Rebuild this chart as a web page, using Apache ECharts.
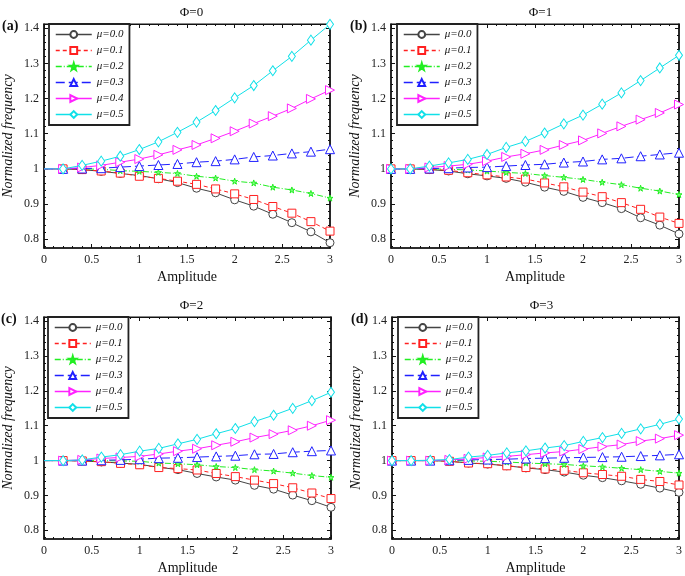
<!DOCTYPE html>
<html>
<head>
<meta charset="utf-8">
<script src="https://cdn.jsdelivr.net/npm/echarts@6/dist/echarts.min.js"></script>
<style>
html,body{margin:0;padding:0;background:#fff;}
#chart{width:685px;height:576px;}
</style>
</head>
<body>
<div id="chart"></div>
<script>
// ---------- data ----------
const amplitude = [0, 0.2, 0.4, 0.6, 0.8, 1.0, 1.2, 1.4, 1.6, 1.8, 2.0, 2.2, 2.4, 2.6, 2.8, 3.0];
const muLabels = ['μ=0.0', 'μ=0.1', 'μ=0.2', 'μ=0.3', 'μ=0.4', 'μ=0.5'];
const phiTitles = ['Φ=0', 'Φ=1', 'Φ=2', 'Φ=3'];
const panelTags = ['(a)', '(b)', '(c)', '(d)'];
const xTickLabels = [0, 0.5, 1, 1.5, 2, 2.5, 3];
const yTickLabels = [0.8, 0.9, 1, 1.1, 1.2, 1.3, 1.4];

// Phi = 0
const phi0_mu00 = [1, 1, 0.998, 0.993, 0.987, 0.981, 0.972, 0.961, 0.945, 0.932, 0.912, 0.894, 0.871, 0.847, 0.821, 0.790];
const phi0_mu01 = [1, 1, 0.998, 0.994, 0.988, 0.979, 0.973, 0.965, 0.956, 0.943, 0.929, 0.913, 0.893, 0.874, 0.850, 0.823];
const phi0_mu02 = [1, 1, 1.000, 0.999, 0.995, 0.993, 0.990, 0.987, 0.979, 0.974, 0.965, 0.960, 0.948, 0.940, 0.930, 0.917];
const phi0_mu03 = [1, 1, 1.001, 1.002, 1.005, 1.008, 1.011, 1.014, 1.019, 1.022, 1.027, 1.034, 1.038, 1.044, 1.049, 1.056];
const phi0_mu04 = [1, 1, 1.004, 1.010, 1.019, 1.028, 1.040, 1.054, 1.068, 1.087, 1.107, 1.129, 1.150, 1.172, 1.199, 1.224];
const phi0_mu05 = [1, 1, 1.010, 1.022, 1.036, 1.055, 1.077, 1.104, 1.133, 1.166, 1.202, 1.237, 1.279, 1.320, 1.366, 1.411];
// Phi = 1
const phi1_mu00 = [1, 1, 0.998, 0.994, 0.986, 0.980, 0.973, 0.962, 0.948, 0.936, 0.919, 0.904, 0.887, 0.861, 0.840, 0.815];
const phi1_mu01 = [1, 1, 0.999, 0.996, 0.989, 0.983, 0.977, 0.971, 0.960, 0.949, 0.934, 0.921, 0.904, 0.885, 0.863, 0.845];
const phi1_mu02 = [1, 1, 1.000, 0.999, 0.997, 0.994, 0.990, 0.987, 0.981, 0.976, 0.970, 0.962, 0.955, 0.945, 0.937, 0.927];
const phi1_mu03 = [1, 1, 1.001, 1.002, 1.004, 1.005, 1.008, 1.011, 1.013, 1.018, 1.021, 1.027, 1.030, 1.036, 1.041, 1.046];
const phi1_mu04 = [1, 1, 1.004, 1.008, 1.013, 1.022, 1.034, 1.043, 1.054, 1.068, 1.081, 1.101, 1.121, 1.140, 1.159, 1.183];
const phi1_mu05 = [1, 1, 1.008, 1.017, 1.027, 1.041, 1.061, 1.078, 1.102, 1.128, 1.153, 1.184, 1.216, 1.251, 1.287, 1.323];
// Phi = 2
const phi2_mu00 = [1, 1, 0.999, 0.996, 0.993, 0.989, 0.981, 0.974, 0.963, 0.953, 0.944, 0.929, 0.918, 0.901, 0.885, 0.866];
const phi2_mu01 = [1, 1, 0.999, 0.997, 0.992, 0.988, 0.980, 0.977, 0.973, 0.963, 0.954, 0.944, 0.934, 0.922, 0.907, 0.891];
const phi2_mu02 = [1, 1, 1.000, 1.000, 0.999, 0.998, 0.993, 0.991, 0.988, 0.983, 0.980, 0.974, 0.970, 0.964, 0.957, 0.952];
const phi2_mu03 = [1, 1, 1.000, 1.001, 1.002, 1.004, 1.007, 1.008, 1.010, 1.012, 1.014, 1.018, 1.019, 1.024, 1.027, 1.029];
const phi2_mu04 = [1, 1, 1.002, 1.006, 1.009, 1.012, 1.019, 1.027, 1.034, 1.044, 1.054, 1.066, 1.076, 1.087, 1.100, 1.116];
const phi2_mu05 = [1, 1, 1.002, 1.010, 1.017, 1.027, 1.035, 1.048, 1.061, 1.077, 1.092, 1.112, 1.130, 1.150, 1.172, 1.196];
// Phi = 3
const phi3_mu00 = [1, 1, 1.000, 0.998, 0.993, 0.990, 0.985, 0.979, 0.974, 0.967, 0.958, 0.951, 0.942, 0.932, 0.921, 0.909];
const phi3_mu01 = [1, 1, 1.000, 0.998, 0.993, 0.991, 0.985, 0.980, 0.976, 0.972, 0.965, 0.960, 0.955, 0.946, 0.940, 0.930];
const phi3_mu02 = [1, 1, 1.000, 1.000, 0.999, 0.998, 0.996, 0.993, 0.991, 0.989, 0.985, 0.982, 0.978, 0.974, 0.969, 0.964];
const phi3_mu03 = [1, 1, 1.000, 1.001, 1.002, 1.003, 1.004, 1.006, 1.007, 1.008, 1.009, 1.010, 1.011, 1.013, 1.015, 1.018];
const phi3_mu04 = [1, 1, 1.000, 1.002, 1.005, 1.009, 1.012, 1.017, 1.022, 1.026, 1.033, 1.040, 1.046, 1.056, 1.063, 1.073];
const phi3_mu05 = [1, 1, 1.001, 1.003, 1.010, 1.015, 1.022, 1.028, 1.036, 1.043, 1.055, 1.066, 1.078, 1.091, 1.104, 1.119];

const panelSeries = [
  [phi0_mu00, phi0_mu01, phi0_mu02, phi0_mu03, phi0_mu04, phi0_mu05],
  [phi1_mu00, phi1_mu01, phi1_mu02, phi1_mu03, phi1_mu04, phi1_mu05],
  [phi2_mu00, phi2_mu01, phi2_mu02, phi2_mu03, phi2_mu04, phi2_mu05],
  [phi3_mu00, phi3_mu01, phi3_mu02, phi3_mu03, phi3_mu04, phi3_mu05]
];
const markerAtZero = [false, true, false, true];

// ---------- styling ----------
const FONT = 'Liberation Serif, Times New Roman, serif';
const STAR = 'path://M50,0 L61,35 L98,35 L68,57 L79,91 L50,70 L21,91 L32,57 L2,35 L39,35 Z';
const styles = [
  { color: '#444444', dash: 'solid',      symbol: 'circle',   size: 8,       rotate: 0,   fill: '#fff' },
  { color: '#ff2020', dash: [4, 3],       symbol: 'rect',     size: 8,       rotate: 0,   fill: '#fff' },
  { color: '#22ee22', dash: [6, 2, 1, 2], symbol: STAR,       size: 6,       rotate: 0,   fill: '#7fff7f' },
  { color: '#2020ff', dash: [9, 4],       symbol: 'triangle', size: 9,       rotate: 0,   fill: '#fff' },
  { color: '#ff22ff', dash: 'solid',      symbol: 'triangle', size: 9,       rotate: -90, fill: '#fff' },
  { color: '#10e0e8', dash: 'solid',      symbol: 'diamond',  size: [7, 10], rotate: 0,   fill: '#fff' }
];

const grids = [
  { left: 43,  top: 24,  width: 287, height: 224 },
  { left: 391, top: 24,  width: 289, height: 224 },
  { left: 42,  top: 317, width: 289, height: 226 },
  { left: 392, top: 317, width: 289, height: 226 }
];
const Y_MIN = 0.775, Y_MAX = 1.412;
const yMinor = [];
for (let k = 39; k <= 70; k++) { const v = +(k * 0.02).toFixed(2); if (Math.abs(v * 10 - Math.round(v * 10)) > 1e-6) yMinor.push(v); }

const option = {
  backgroundColor: '#fff',
  animation: false,
  textStyle: { fontFamily: FONT },
  title: [], grid: [], xAxis: [], yAxis: [], legend: [], series: [], graphic: []
};

const axisLineStyle = { color: '#111', width: 1.5 };
grids.forEach((g, p) => {
  option.grid.push({ left: g.left, top: g.top, width: g.width, height: g.height, show: true, borderColor: '#111', borderWidth: 1.2, containLabel: false });
  option.title.push({
    text: phiTitles[p], left: g.left + g.width / 2, top: g.top - 23, textAlign: 'center',
    textStyle: { fontFamily: FONT, fontSize: 13, fontWeight: 'normal', color: '#111' }
  });
  option.graphic.push({
    type: 'text', left: g.left - 41, top: g.top - 5,
    style: { text: panelTags[p], font: 'bold 14px ' + FONT, fill: '#111' }
  });
  const xi = option.xAxis.length;
  const baseX = { type: 'value', gridIndex: p, min: 0, max: 3, interval: 0.5, splitLine: { show: false } };
  option.xAxis.push(Object.assign({}, baseX, {
    position: 'bottom', name: 'Amplitude', nameLocation: 'middle', nameGap: 22,
    nameTextStyle: { fontFamily: FONT, fontSize: 14, color: '#111' },
    axisLine: { show: true, lineStyle: axisLineStyle },
    axisTick: { show: true, inside: true, length: 4, lineStyle: { color: '#111' } },
    minorTick: { show: true, splitNumber: 5, length: 2, lineStyle: { color: '#111' } },
    axisLabel: { show: true, margin: 6, fontFamily: FONT, fontSize: 12, color: '#222',
      customValues: xTickLabels }
  }));
  option.xAxis.push(Object.assign({}, baseX, {
    position: 'top',
    axisLine: { show: true, lineStyle: { color: '#111', width: 1 } },
    axisTick: { show: true, inside: true, length: 4, lineStyle: { color: '#111' } },
    minorTick: { show: true, splitNumber: 5, length: 2, lineStyle: { color: '#111' } },
    axisLabel: { show: false }
  }));
  const yi = option.yAxis.length;
  const baseY = { type: 'value', gridIndex: p, min: Y_MIN, max: Y_MAX, splitLine: { show: false } };
  option.yAxis.push(Object.assign({}, baseY, {
    position: 'left', name: 'Normalized frequency', nameLocation: 'middle', nameGap: 29, nameRotate: 90,
    nameTextStyle: { fontFamily: FONT, fontSize: 14, fontStyle: 'italic', color: '#111' },
    axisLine: { show: true, lineStyle: axisLineStyle },
    axisTick: { show: true, inside: true, length: 4, customValues: yTickLabels, lineStyle: { color: '#111' } },
    axisLabel: { show: true, margin: 5, fontFamily: FONT, fontSize: 12, color: '#222', customValues: yTickLabels }
  }));
  option.yAxis.push(Object.assign({}, baseY, {
    position: 'left',
    axisLine: { show: false },
    axisTick: { show: true, inside: true, length: 2, customValues: yMinor, lineStyle: { color: '#111' } },
    axisLabel: { show: false }
  }));
  option.yAxis.push(Object.assign({}, baseY, {
    position: 'right',
    axisLine: { show: true, lineStyle: axisLineStyle },
    axisTick: { show: true, inside: true, length: 4, customValues: yTickLabels, lineStyle: { color: '#111' } },
    axisLabel: { show: false }
  }));
  option.yAxis.push(Object.assign({}, baseY, {
    position: 'right',
    axisLine: { show: false },
    axisTick: { show: true, inside: true, length: 2, customValues: yMinor, lineStyle: { color: '#111' } },
    axisLabel: { show: false }
  }));

  panelSeries[p].forEach((vals, s) => {
    const st = styles[s];
    option.series.push({
      type: 'line', name: muLabels[s], xAxisIndex: xi, yAxisIndex: yi,
      data: vals.map((v, i) => (i === 0 && !markerAtZero[p]) ? { value: [amplitude[i], v], symbol: 'none' } : [amplitude[i], v]),
      symbol: st.symbol, symbolSize: st.size, symbolRotate: st.rotate,
      showAllSymbol: true,
      lineStyle: { color: st.color, width: 1, type: st.dash },
      itemStyle: { color: st.fill, borderColor: st.color, borderWidth: 1 },
      z: 2 + s
    });
  });

  option.legend.push({
    orient: 'vertical', left: g.left + 6, top: g.top,
    data: muLabels,
    itemWidth: 36, itemHeight: 8.5, itemGap: 5,
    padding: [5, 6, 5, 6],
    backgroundColor: '#fff', borderColor: '#222', borderWidth: 1.8,
    lineStyle: { width: 1.5 },
    textStyle: { fontFamily: FONT, fontSize: 11, fontStyle: 'italic', color: '#111' },
    selectedMode: false,
    z: 10
  });
});

const chart = echarts.init(document.getElementById('chart'), null, { renderer: 'canvas' });
chart.setOption(option);
</script>
</body>
</html>
